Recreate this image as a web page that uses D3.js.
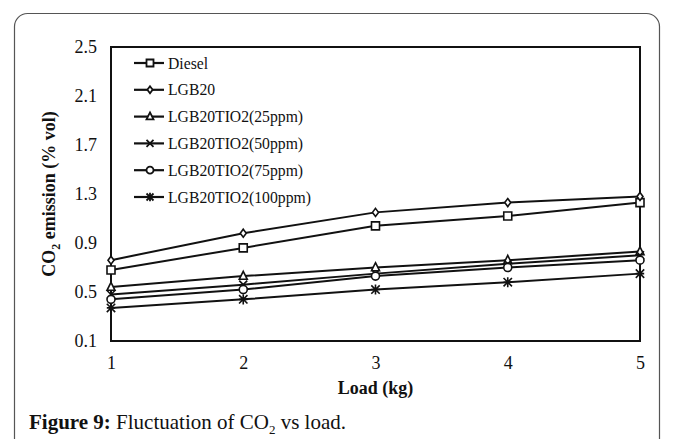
<!DOCTYPE html>
<html>
<head>
<meta charset="utf-8">
<script src="https://cdn.jsdelivr.net/npm/d3@7"></script>
<style>
  body { margin: 0; background: #fff; }
  svg text { font-family: "Liberation Serif", "Times New Roman", serif; fill: #111; }
</style>
</head>
<body>
<script>
// data
var loads = [1, 2, 3, 4, 5];
var yTicks = [0.1, 0.5, 0.9, 1.3, 1.7, 2.1, 2.5];
var seriesNames = ["Diesel", "LGB20", "LGB20TIO2(25ppm)", "LGB20TIO2(50ppm)", "LGB20TIO2(75ppm)", "LGB20TIO2(100ppm)"];
var diesel = [0.68, 0.86, 1.04, 1.12, 1.23];
var lgb20 = [0.76, 0.98, 1.15, 1.23, 1.28];
var tio25 = [0.54, 0.63, 0.70, 0.76, 0.83];
var tio50 = [0.48, 0.56, 0.65, 0.73, 0.80];
var tio75 = [0.44, 0.52, 0.63, 0.70, 0.76];
var tio100 = [0.37, 0.44, 0.52, 0.58, 0.65];
var markers = ["square", "diamond", "triangle", "cross", "circle", "star"];

var allSeries = [diesel, lgb20, tio25, tio50, tio75, tio100];

var W = 673, H = 439;
var margin = { top: 47, right: 33, bottom: 98, left: 111 };
var width = W - margin.left - margin.right,
    height = H - margin.top - margin.bottom;

var svg = d3.select("body").append("svg")
    .attr("width", W).attr("height", H);

// outer rounded frame
svg.append("rect")
    .attr("x", 14.5).attr("y", 13.5)
    .attr("width", 645).attr("height", 450)
    .attr("rx", 13)
    .attr("fill", "none")
    .attr("stroke", "#555")
    .attr("stroke-width", 1.2);

var g = svg.append("g").attr("transform", "translate(" + margin.left + "," + margin.top + ")");

var x = d3.scaleLinear().domain([1, 5]).range([0, width]);
var y = d3.scaleLinear().domain([0.1, 2.5]).range([height, 0]);

// axes (labels only)
var yAxis = g.append("g")
    .call(d3.axisLeft(y).tickValues(yTicks).tickSize(0).tickPadding(14).tickFormat(d3.format(".1f")));
yAxis.select(".domain").remove();
yAxis.selectAll("text").style("font-size", "18px");

var xAxis = g.append("g")
    .attr("transform", "translate(0," + height + ")")
    .call(d3.axisBottom(x).tickValues(loads).tickSize(0).tickPadding(15).tickFormat(d3.format("d")));
xAxis.select(".domain").remove();
xAxis.selectAll("text").style("font-size", "18px");

// plot frame
g.append("rect")
    .attr("width", width).attr("height", height)
    .attr("fill", "none").attr("stroke", "#111").attr("stroke-width", 2);

var sym = function (type, s) {
    var p = d3.path();
    if (type === "square") { p.rect(-s, -s, 2 * s, 2 * s); }
    else if (type === "diamond") { p.moveTo(0, -s); p.lineTo(s * 0.75, 0); p.lineTo(0, s); p.lineTo(-s * 0.75, 0); p.closePath(); }
    else if (type === "triangle") { p.moveTo(0, -s * 1.2); p.lineTo(s, s * 0.8); p.lineTo(-s, s * 0.8); p.closePath(); }
    else if (type === "circle") { p.arc(0, 0, s, 0, 2 * Math.PI); }
    else if (type === "cross") { p.moveTo(-s, -s); p.lineTo(s, s); p.moveTo(s, -s); p.lineTo(-s, s); }
    else if (type === "star") { p.moveTo(-s, -s); p.lineTo(s, s); p.moveTo(s, -s); p.lineTo(-s, s); p.moveTo(0, -s * 1.2); p.lineTo(0, s * 1.2); p.moveTo(-s, 0); p.lineTo(s, 0); }
    return p.toString();
};
var symSize = { square: 4, diamond: 4, triangle: 4, cross: 4, circle: 4, star: 4.2 };

var line = d3.line()
    .x(function (d, i) { return x(loads[i]); })
    .y(function (d) { return y(d); });

allSeries.forEach(function (vals, k) {
    g.append("path")
        .datum(vals)
        .attr("d", line)
        .attr("fill", "none")
        .attr("stroke", "#111")
        .attr("stroke-width", 2);
    g.selectAll(".m" + k)
        .data(vals)
        .enter().append("path")
        .attr("transform", function (d, i) { return "translate(" + x(loads[i]) + "," + y(d) + ")"; })
        .attr("d", sym(markers[k], symSize[markers[k]]))
        .attr("fill", "#fff")
        .attr("stroke", "#111")
        .attr("stroke-width", 1.6);
});

// legend
var legend = g.append("g").attr("transform", "translate(23,16)");
seriesNames.forEach(function (name, k) {
    var row = legend.append("g").attr("transform", "translate(0," + (k * 26.8) + ")");
    row.append("line").attr("x1", 0).attr("x2", 30).attr("y1", 0).attr("y2", 0)
        .attr("stroke", "#111").attr("stroke-width", 2.2);
    row.append("path").attr("transform", "translate(16,0)")
        .attr("d", sym(markers[k], 3.5))
        .attr("fill", "#fff").attr("stroke", "#111").attr("stroke-width", 1.8);
    row.append("text").attr("x", 34).attr("y", 5.5)
        .style("font-size", "15.7px").text(name);
});

// axis titles
svg.append("text")
    .attr("x", margin.left + width / 2).attr("y", 394)
    .attr("text-anchor", "middle")
    .style("font-size", "18px").style("font-weight", "bold")
    .text("Load (kg)");

var yt = svg.append("text")
    .attr("transform", "translate(55," + (margin.top + height / 2) + ") rotate(-90)")
    .attr("text-anchor", "middle")
    .style("font-size", "18px").style("font-weight", "bold");
yt.append("tspan").text("CO");
yt.append("tspan").attr("dy", 5).style("font-size", "12px").text("2");
yt.append("tspan").attr("dy", -5).text(" emission (% vol)");

// caption
var cap = svg.append("text")
    .attr("x", 29).attr("y", 429)
    .style("font-size", "21px");
cap.append("tspan").style("font-weight", "bold").text("Figure 9:");
cap.append("tspan").text(" Fluctuation of CO");
cap.append("tspan").attr("dy", 5).style("font-size", "13px").text("2");
cap.append("tspan").attr("dy", -5).text(" vs load.");
</script>
</body>
</html>
